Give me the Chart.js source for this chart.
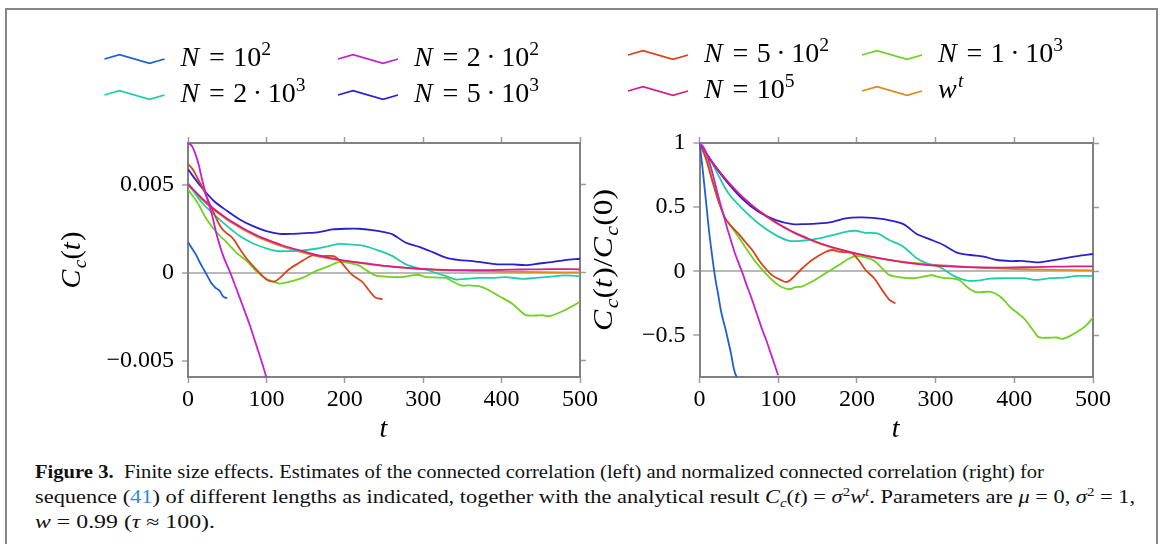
<!DOCTYPE html>
<html lang="en">
<head>
<meta charset="utf-8">
<title>Finite size effects</title>
<script src="https://cdn.jsdelivr.net/npm/chart.js@4.4.1/dist/chart.umd.min.js"></script>
<style>
  html, body { margin: 0; padding: 0; background: #fff; }
  body { width: 1163px; height: 544px; position: relative; overflow: hidden; font-family: "Liberation Serif", serif; }
  #frame { position: absolute; left: 5px; top: 8px; width: 1149px; height: 700px; border: 2px solid #878787; border-bottom: none; }
  #left { position: absolute; left: 0; top: 0; }
  #right { position: absolute; left: 585px; top: 0; }
  .cap { position: absolute; left: 35px; white-space: nowrap; font-size: 18px; line-height: 20px; transform-origin: 0 0; color: #111; }
  .cap .ref { color: #2a8fd8; }
  .sub { font-size: 12px; position: relative; top: 4px; }
  .sup { font-size: 12px; position: relative; top: -7px; }
</style>
</head>
<body>
<div id="frame"></div>
<canvas id="left" width="600" height="450"></canvas>
<canvas id="right" width="535" height="450"></canvas>
<div class="cap" data-w="1009" style="top:462px"><b>Figure 3.</b>&nbsp; Finite size effects. Estimates of the connected correlation (left) and normalized connected correlation (right) for</div>
<div class="cap" data-w="1100" style="top:487px">sequence (<span class="ref">41</span>) of different lengths as indicated, together with the analytical result <i>C</i><span class="sub"><i>c</i></span>(<i>t</i>) = <i>σ</i><span class="sup">2</span><i>w</i><span class="sup"><i>t</i></span>. Parameters are <i>μ</i> = 0, <i>σ</i><span class="sup">2</span> = 1,</div>
<div class="cap" data-w="180" style="top:512px"><i>w</i> = 0.99 (<i>τ</i> ≈ 100).</div>
<script>
    // legend labels, in legend order (row 1 left to right, then row 2)
    var seriesLabels = ['N = 10^2', 'N = 2 · 10^2', 'N = 5 · 10^2', 'N = 1 · 10^3',
                        'N = 2 · 10^3', 'N = 5 · 10^3', 'N = 10^5', 'w^t'];
    var seriesColors = ['#1d5fd9', '#c620d2', '#d9431c', '#6fd21e',
                        '#1fcdaa', '#2b20cf', '#d81c8a', '#dc8a1c'];
    var seriesOrder = [2, 1, 4, 5, 7, 6, 3, 9];

    var xTicks = [0, 100, 200, 300, 400, 500];
    var yTicksLeft = [-0.005, 0, 0.005];
    var yTickLabelsLeft = ['\u22120.005', '0', '0.005'];
    var yTicksRight = [-0.5, 0, 0.5, 1];
    var yTickLabelsRight = ['\u22120.5', '0', '0.5', '1'];

    // left panel: C_c(t), pairs [t, value]
    var leftN1e2 = [[0,0.00175],[5,0.0014],[10,0.00105],[15,0.0006],[20,0.0002],[25,-0.0002],[30,-0.0006],
        [35,-0.00085],[40,-0.001],[45,-0.00135],[50,-0.00145]];
    var leftN2e2 = [[0,0.0074],[5,0.00722],[10,0.0067],[14,0.0061],[18,0.0053],[24,0.0043],[30,0.0034],[37,0.0021],
        [45,0.00095],[54,0],[62,-0.00095],[70,-0.0019],[79,-0.003],[87,-0.0041],[95,-0.0052],[100,-0.00595]];
    var leftN5e2 = [[0,0.0062],[6,0.0059],[12,0.0054],[18,0.0049],[24,0.0043],[30,0.0037],[36,0.0031],[42,0.0026],
        [48,0.0023],[54,0.0021],[60,0.0018],[67,0.0013],[75,0.0008],[87,0.0002],[100,-0.00038],[110,-0.0005],
        [117,-0.0003],[129,0.0002],[142,0.00057],[159,0.001],[171,0.00095],[186,0.00095],[193,0.00072],
        [201,0.0003],[209,-0.0001],[222,-0.0005],[230,-0.00095],[239,-0.0014],[248,-0.0015]];
    var leftN1e3 = [[0,0.00475],[12,0.004],[24,0.00304],[37,0.00228],[50,0.00171],[62,0.00114],[75,0.00067],
        [87,0.0001],[100,-0.00034],[113,-0.00057],[117,-0.00061],[129,-0.00051],[146,-0.00029],[163,0.0001],
        [180,0.00038],[192,0.00061],[205,0.00057],[218,0.00042],[226,0.00019],[239,-0.00015],[256,-0.00023],
        [270,-0.00025],[286,-0.00015],[293,-0.00011],[303,-0.00023],[320,-0.00027],[329,-0.00029],[337,-0.00048],
        [348,-0.00072],[359,-0.00072],[371,-0.00076],[384,-0.00099],[397,-0.00133],[414,-0.00177],[422,-0.00209],
        [431,-0.00241],[443,-0.00243],[452,-0.00241],[460,-0.00247],[473,-0.00228],[486,-0.002],[500,-0.00165]];
    var leftN2e3 = [[0,0.00513],[16,0.00409],[33,0.00333],[50,0.00266],[66,0.00209],[83,0.00167],[100,0.00139],
        [113,0.00124],[129,0.00124],[146,0.00127],[163,0.00137],[180,0.00152],[192,0.00165],[205,0.00162],
        [222,0.00156],[239,0.00133],[256,0.00105],[261,0.00095],[278,0.00048],[291,0.00029],[303,0.00019],
        [316,0],[329,-0.00019],[342,-0.00038],[354,-0.00034],[371,-0.00029],[388,-0.00029],[405,-0.00025],
        [426,-0.00034],[443,-0.00029],[460,-0.00023],[481,-0.00015],[500,-0.00019]];
    var leftN5e3 = [[0,0.00589],[16,0.00494],[33,0.00409],[50,0.00352],[66,0.00304],[83,0.00266],[100,0.00238],
        [117,0.00222],[134,0.00222],[150,0.00226],[167,0.00232],[184,0.00247],[201,0.00251],[218,0.00251],
        [235,0.00243],[252,0.0023],[261,0.00219],[278,0.00171],[295,0.00148],[312,0.00118],[329,0.00086],
        [346,0.00072],[363,0.00067],[380,0.00057],[397,0.00048],[414,0.00048],[431,0.00044],[448,0.00053],
        [464,0.00061],[481,0.00072],[500,0.0008]];
    var leftN1e5 = [[0,0.00505],[10,0.0046],[20,0.00415],[30,0.00375],[40,0.0034],[50,0.00308],[60,0.0028],
        [70,0.00254],[80,0.0023],[90,0.00208],[100,0.0019],[120,0.00157],[140,0.0013],[160,0.00106],[180,0.00085],
        [200,0.0007],[225,0.00055],[250,0.0004],[275,0.0003],[300,0.00022],[325,0.00017],[350,0.00015],
        [375,0.00015],[400,0.00017],[425,0.00019],[450,0.0002],[475,0.00021],[500,0.0002]];
    var leftWt = [[0,0.005],[10,0.00452],[20,0.00409],[30,0.0037],[40,0.00334],[50,0.00302],[60,0.00274],
        [70,0.00247],[80,0.00224],[90,0.00202],[100,0.00183],[120,0.0015],[140,0.00123],[160,0.001],[180,0.00082],
        [200,0.00067],[225,0.00052],[250,0.0004],[275,0.0003],[300,0.0002],[350,0.00012],[400,0.00007],
        [450,0.00004],[500,0.00002]];

    // right panel: C_c(t)/C_c(0)
    var rightN1e2 = [[0,1],[3,0.85],[6,0.68],[9,0.5],[12,0.32],[15,0.17],[18,0.03],[21,-0.09],[24,-0.19],
        [27,-0.3],[30,-0.38],[33,-0.45],[36,-0.53],[40,-0.64],[44,-0.77],[47,-0.82],[50,-0.84]];
    var rightN2e2 = [[0,1],[5,0.97],[10,0.9],[15,0.8],[20,0.68],[25,0.56],[30,0.45],[35,0.34],[40,0.24],
        [45,0.14],[50,0.06],[55,-0.02],[60,-0.11],[65,-0.19],[70,-0.28],[75,-0.37],[80,-0.46],[85,-0.54],
        [90,-0.63],[95,-0.72],[100,-0.81]];
    var rightN5e2 = [[0,1],[8,0.88],[16,0.71],[25,0.53],[33,0.41],[42,0.34],[50,0.29],[58,0.23],[67,0.166],
        [75,0.09],[80,0.05],[92,-0.03],[105,-0.073],[111,-0.083],[118,-0.054],[130,0.02],[143,0.088],[160,0.15],
        [169,0.166],[177,0.153],[188,0.148],[194,0.14],[202,0.088],[211,0.01],[222,-0.054],[232,-0.145],
        [241,-0.22],[249,-0.25]];
    var rightN1e3 = [[0,1],[8,0.9],[16,0.72],[25,0.54],[33,0.41],[46,0.3],[58,0.19],[71,0.075],[84,-0.016],
        [97,-0.093],[105,-0.124],[114,-0.14],[122,-0.124],[130,-0.119],[143,-0.08],[160,-0.016],[177,0.049],
        [190,0.1],[198,0.119],[211,0.109],[222,0.083],[232,0.023],[241,-0.028],[255,-0.047],[272,-0.054],
        [289,-0.036],[295,-0.031],[306,-0.047],[327,-0.062],[331,-0.073],[342,-0.132],[352,-0.163],[370,-0.16],
        [382,-0.197],[395,-0.28],[412,-0.365],[425,-0.469],[431,-0.513],[442,-0.518],[454,-0.516],[461,-0.526],
        [471,-0.503],[484,-0.456],[492,-0.417],[500,-0.36]];
    var rightN2e3 = [[0,1],[12,0.89],[25,0.736],[37,0.606],[54,0.49],[75,0.373],[97,0.282],[114,0.238],
        [130,0.238],[152,0.256],[169,0.282],[186,0.308],[198,0.316],[211,0.3],[226,0.295],[241,0.244],
        [259,0.192],[276,0.101],[289,0.062],[306,0.031],[323,-0.036],[340,-0.073],[353,-0.073],[370,-0.057],
        [391,-0.054],[412,-0.054],[429,-0.067],[446,-0.054],[463,-0.049],[480,-0.036],[500,-0.036]];
    var rightN5e3 = [[0,1],[16,0.852],[33,0.71],[54,0.567],[75,0.464],[97,0.399],[118,0.368],[135,0.368],
        [152,0.373],[169,0.386],[186,0.412],[203,0.42],[220,0.417],[236,0.404],[259,0.368],[276,0.29],
        [293,0.249],[310,0.205],[327,0.145],[344,0.127],[361,0.114],[378,0.088],[395,0.08],[412,0.08],
        [429,0.07],[446,0.083],[463,0.101],[480,0.119],[500,0.135]];
    var rightN1e5 = [[0,1],[10,0.905],[20,0.82],[30,0.742],[40,0.672],[50,0.608],[60,0.55],[70,0.498],
        [80,0.452],[90,0.41],[100,0.37],[120,0.303],[140,0.25],[160,0.205],[180,0.168],[200,0.137],[225,0.106],
        [250,0.08],[275,0.058],[300,0.044],[325,0.036],[350,0.031],[375,0.029],[400,0.03],[425,0.033],
        [450,0.036],[475,0.039],[500,0.038]];
    var rightWt = [[0,1],[10,0.904],[20,0.818],[30,0.74],[40,0.669],[50,0.605],[60,0.547],[70,0.495],
        [80,0.448],[90,0.405],[100,0.366],[120,0.299],[140,0.245],[160,0.2],[180,0.164],[200,0.134],[225,0.104],
        [250,0.081],[275,0.063],[300,0.049],[350,0.03],[400,0.018],[450,0.011],[500,0.007]];

    var leftPanel = [leftN1e2, leftN2e2, leftN5e2, leftN1e3, leftN2e3, leftN5e3, leftN1e5, leftWt];
    var rightPanel = [rightN1e2, rightN2e2, rightN5e2, rightN1e3, rightN2e3, rightN5e3, rightN1e5, rightWt];

    var FONT = '"Liberation Serif", "DejaVu Serif", serif';
    var legendIcon = [[0, -7], [15, -11.3], [45, -2.7], [60, -7]];

    // tiny math typesetter: letters italic, ^x superscript, _x subscript
    function mathLayout(ctx, str, size) {
        var items = [], x = 0, gaps = {'=': 0.3, '·': 0.2};
        for (var i = 0; i < str.length; i++) {
            var ch = str[i], pos = 0;
            if ((ch === '^' || ch === '_') && i + 1 < str.length) {
                pos = ch === '^' ? 1 : -1;
                ch = str[++i];
            }
            if (ch === ' ') continue;
            var it = /[A-Za-z]/.test(ch);
            var s = pos ? size * 0.7 : size;
            var g = (gaps[ch] || 0) * size;
            x += g;
            ctx.font = (it ? 'italic ' : '') + s + 'px ' + FONT;
            var w = ctx.measureText(ch).width;
            items.push({ch: ch, it: it, s: s, x: x, dy: pos > 0 ? -0.4 * size : (pos < 0 ? 0.22 * size : 0)});
            x += w + g;
            if (it && !pos) x += 0.05 * size;
        }
        return {items: items, width: x};
    }

    function drawMath(ctx, str, x, y, size, align, target) {
        var lay = mathLayout(ctx, str, size);
        var sx = target ? target / lay.width : 1;
        var start = align === 'center' ? x - lay.width * sx / 2 : x;
        ctx.save();
        ctx.translate(start, y);
        ctx.scale(sx, 1);
        ctx.textAlign = 'left';
        ctx.textBaseline = 'alphabetic';
        lay.items.forEach(function (it) {
            ctx.font = (it.it ? 'italic ' : '') + it.s + 'px ' + FONT;
            ctx.fillText(it.ch, it.x, it.dy);
        });
        ctx.restore();
    }

    var decor = {
        id: 'decor',
        afterDraw: function (chart, args, opts) {
            var ctx = chart.ctx;
            ctx.save();
            ctx.fillStyle = '#000';
            opts.entries.forEach(function (e) {
                var ds = chart.data.datasets[e.ds];
                ctx.strokeStyle = ds.borderColor;
                ctx.lineWidth = 1.7;
                ctx.beginPath();
                legendIcon.forEach(function (p, k) {
                    if (k) ctx.lineTo(e.x + p[0], e.y + p[1]);
                    else ctx.moveTo(e.x + p[0], e.y + p[1]);
                });
                ctx.stroke();
                drawMath(ctx, ds.label, e.x + 76, e.y, 28);
            });
            var area = chart.chartArea;
            drawMath(ctx, 't', (area.left + area.right) / 2, opts.xTitleY, 28, 'center');
            ctx.save();
            ctx.translate(opts.yTitle.x, (area.top + area.bottom) / 2);
            ctx.rotate(-Math.PI / 2);
            drawMath(ctx, opts.yTitle.text, 0, 0, 28, 'center', opts.yTitle.width);
            ctx.restore();
            ctx.restore();
        }
    };

    function makeChart(id, panel, cfg) {
        var datasets = seriesLabels.map(function (label, i) {
            return {
                label: label,
                data: panel[i].map(function (p) { return {x: p[0], y: p[1]}; }),
                borderColor: seriesColors[i],
                order: seriesOrder[i],
                borderWidth: 1.8,
                pointRadius: 0,
                tension: 0.3,
                fill: false
            };
        });
        var tickFont = {family: FONT, size: 24};
        var grid = {drawOnChartArea: false, tickLength: 6, tickColor: '#9c9c9c', tickWidth: 1.5};
        var border = {color: '#818181', width: 2};
        var hidden = {color: 'rgba(0,0,0,0)', callback: function () { return ''; }};
        var setX = function (s) { s.ticks = xTicks.map(function (v) { return {value: v}; }); };
        var setY = function (s) { s.ticks = cfg.yTicks.map(function (v) { return {value: v}; }); };
        return new Chart(document.getElementById(id), {
            type: 'line',
            data: {datasets: datasets},
            options: {
                responsive: false,
                animation: false,
                devicePixelRatio: 1,
                events: [],
                layout: {padding: {left: 0, top: 143, right: cfg.padRight, bottom: 0}},
                plugins: {
                    legend: {display: false},
                    tooltip: {enabled: false},
                    decor: {entries: cfg.entries, xTitleY: 437, yTitle: cfg.yTitle}
                },
                scales: {
                    x: {
                        type: 'linear', position: 'bottom', min: 0, max: 500,
                        afterBuildTicks: setX,
                        ticks: {font: tickFont, color: '#000', padding: 2, maxRotation: 0,
                                callback: function (v) { return String(v); }},
                        grid: grid, border: border,
                        afterFit: function (s) { s.height = 73; }
                    },
                    xTop: {
                        type: 'linear', position: 'top', min: 0, max: 500,
                        afterBuildTicks: setX, ticks: hidden, grid: grid, border: border,
                        afterFit: function (s) { s.height = 0; }
                    },
                    y: {
                        type: 'linear', position: 'left', min: cfg.yMin, max: cfg.yMax,
                        afterBuildTicks: setY,
                        ticks: {font: tickFont, color: '#000', padding: 8,
                                callback: function (v) { return cfg.yLabels[cfg.yTicks.indexOf(v)]; }},
                        grid: {
                            drawOnChartArea: true, tickLength: 6, tickColor: '#9c9c9c', tickWidth: 1.5,
                            lineWidth: 2,
                            color: function (c) { return c.tick && c.tick.value === 0 ? '#b9b9b9' : 'rgba(0,0,0,0)'; }
                        },
                        border: border,
                        afterFit: function (s) { s.width = cfg.yWidth; }
                    },
                    yRight: {
                        type: 'linear', position: 'right', min: cfg.yMin, max: cfg.yMax,
                        afterBuildTicks: setY, ticks: hidden, grid: grid, border: border,
                        afterFit: function (s) { s.width = 0; }
                    }
                }
            },
            plugins: [decor]
        });
    }

    makeChart('left', leftPanel, {
        yMin: -0.00593, yMax: 0.00739, yTicks: yTicksLeft, yLabels: yTickLabelsLeft,
        yWidth: 188, padRight: 19,
        yTitle: {text: 'C_c(t)', x: 80, width: 57},
        entries: [{ds: 0, x: 104.5, y: 66}, {ds: 1, x: 338, y: 66},
                  {ds: 4, x: 104.5, y: 102}, {ds: 5, x: 338, y: 102}]
    });
    makeChart('right', rightPanel, {
        yMin: -0.824, yMax: 1, yTicks: yTicksRight, yLabels: yTickLabelsRight,
        yWidth: 114.5, padRight: 27,
        yTitle: {text: 'C_c(t)/C_c(0)', x: 27, width: 142},
        entries: [{ds: 2, x: 43, y: 62}, {ds: 3, x: 277, y: 62},
                  {ds: 6, x: 43, y: 98}, {ds: 7, x: 277, y: 98}]
    });

    // fit caption lines to the measured line lengths
    Array.prototype.slice.call(document.querySelectorAll('.cap')).forEach(function (el) {
        var w = el.getBoundingClientRect().width;
        el.style.transform = 'scaleX(' + (parseFloat(el.getAttribute('data-w')) / w) + ')';
    });
</script>
</body>
</html>
